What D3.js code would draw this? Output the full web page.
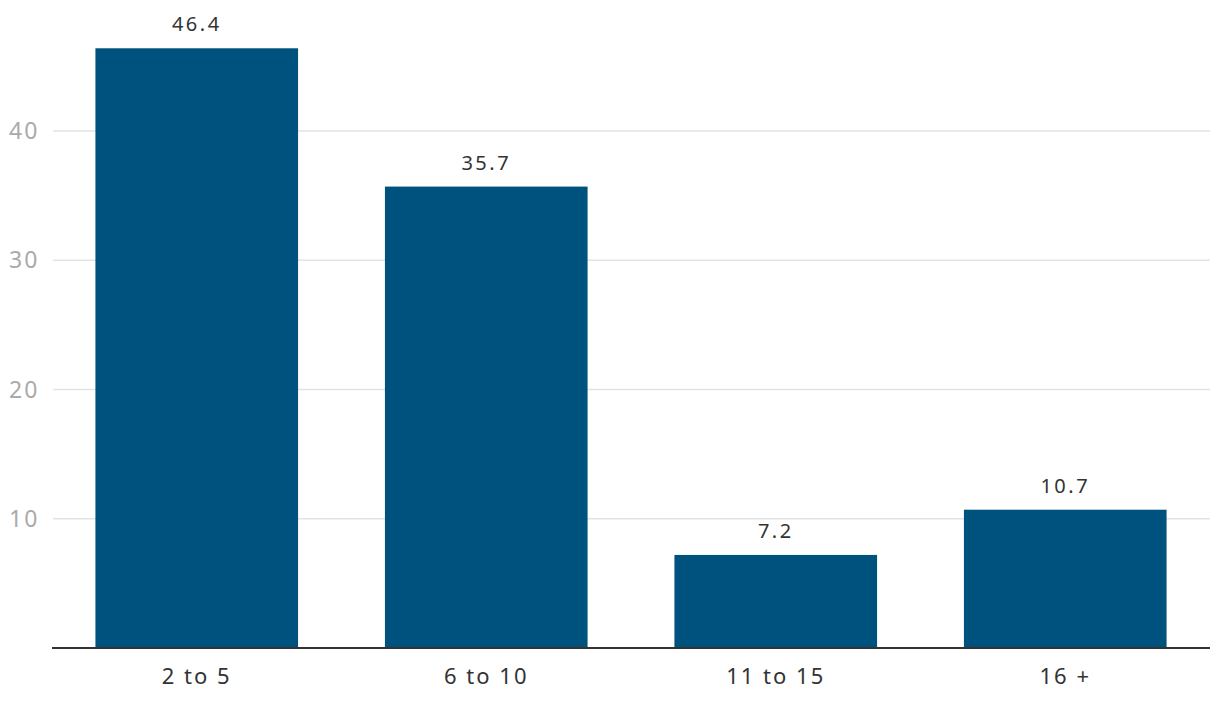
<!DOCTYPE html>
<html><head><meta charset="utf-8">
<script src="https://cdn.jsdelivr.net/npm/d3@7"></script>
<style>body{margin:0;background:#fff}</style>
</head><body>
<svg id="c" width="1220" height="710"></svg>
<script>
const categories = ["2 to 5", "6 to 10", "11 to 15", "16 +"];
const values = [46.4, 35.7, 7.2, 10.7];
const yTicks = [10, 20, 30, 40];

(function () {
const svg = d3.select("#c");
const font = "'Noto Sans', sans-serif";
const mLeft = 52, mRight = 1210, mBottom = 648;
const x = d3.scaleBand().domain(categories).range([mLeft, mRight]).paddingInner(0.3).paddingOuter(0.15);
const y = d3.scaleLinear().domain([0, 40]).range([mBottom, 131]);

svg.append("g").selectAll("line").data(yTicks).join("line")
  .attr("x1", 53).attr("x2", mRight).attr("y1", d => y(d)).attr("y2", d => y(d))
  .attr("stroke", "#e3e3e3").attr("stroke-width", 1.5);
svg.append("g").selectAll("text").data(yTicks).join("text")
  .attr("x", 9).attr("y", d => y(d)).attr("dy", "0.35em")
  .attr("font-family", font).attr("font-size", 23).attr("letter-spacing", 2).attr("fill", "#aaaaaa")
  .text(d => d);

svg.append("g").selectAll("rect").data(values).join("rect")
  .attr("x", (d, i) => x(categories[i])).attr("width", x.bandwidth())
  .attr("y", d => y(d)).attr("height", d => y(0) - y(d))
  .attr("fill", "#00527e");

svg.append("g").selectAll("text").data(values).join("text")
  .attr("x", (d, i) => x(categories[i]) + x.bandwidth() / 2)
  .attr("y", d => y(d) - 17).attr("text-anchor", "middle")
  .attr("font-family", font).attr("font-size", 20).attr("letter-spacing", 2.5).attr("fill", "#333")
  .attr("stroke", "#fff").attr("stroke-width", 4).attr("paint-order", "stroke")
  .text(d => d.toFixed(1));

svg.append("line").attr("x1", mLeft).attr("x2", mRight).attr("y1", mBottom).attr("y2", mBottom)
  .attr("stroke", "#333").attr("stroke-width", 2);
svg.append("g").selectAll("text").data(categories).join("text")
  .attr("x", d => x(d) + x.bandwidth() / 2).attr("y", 684).attr("text-anchor", "middle")
  .attr("font-family", font).attr("font-size", 22).attr("letter-spacing", 2).attr("fill", "#333")
  .text(d => d);
})();
</script>
</body></html>
